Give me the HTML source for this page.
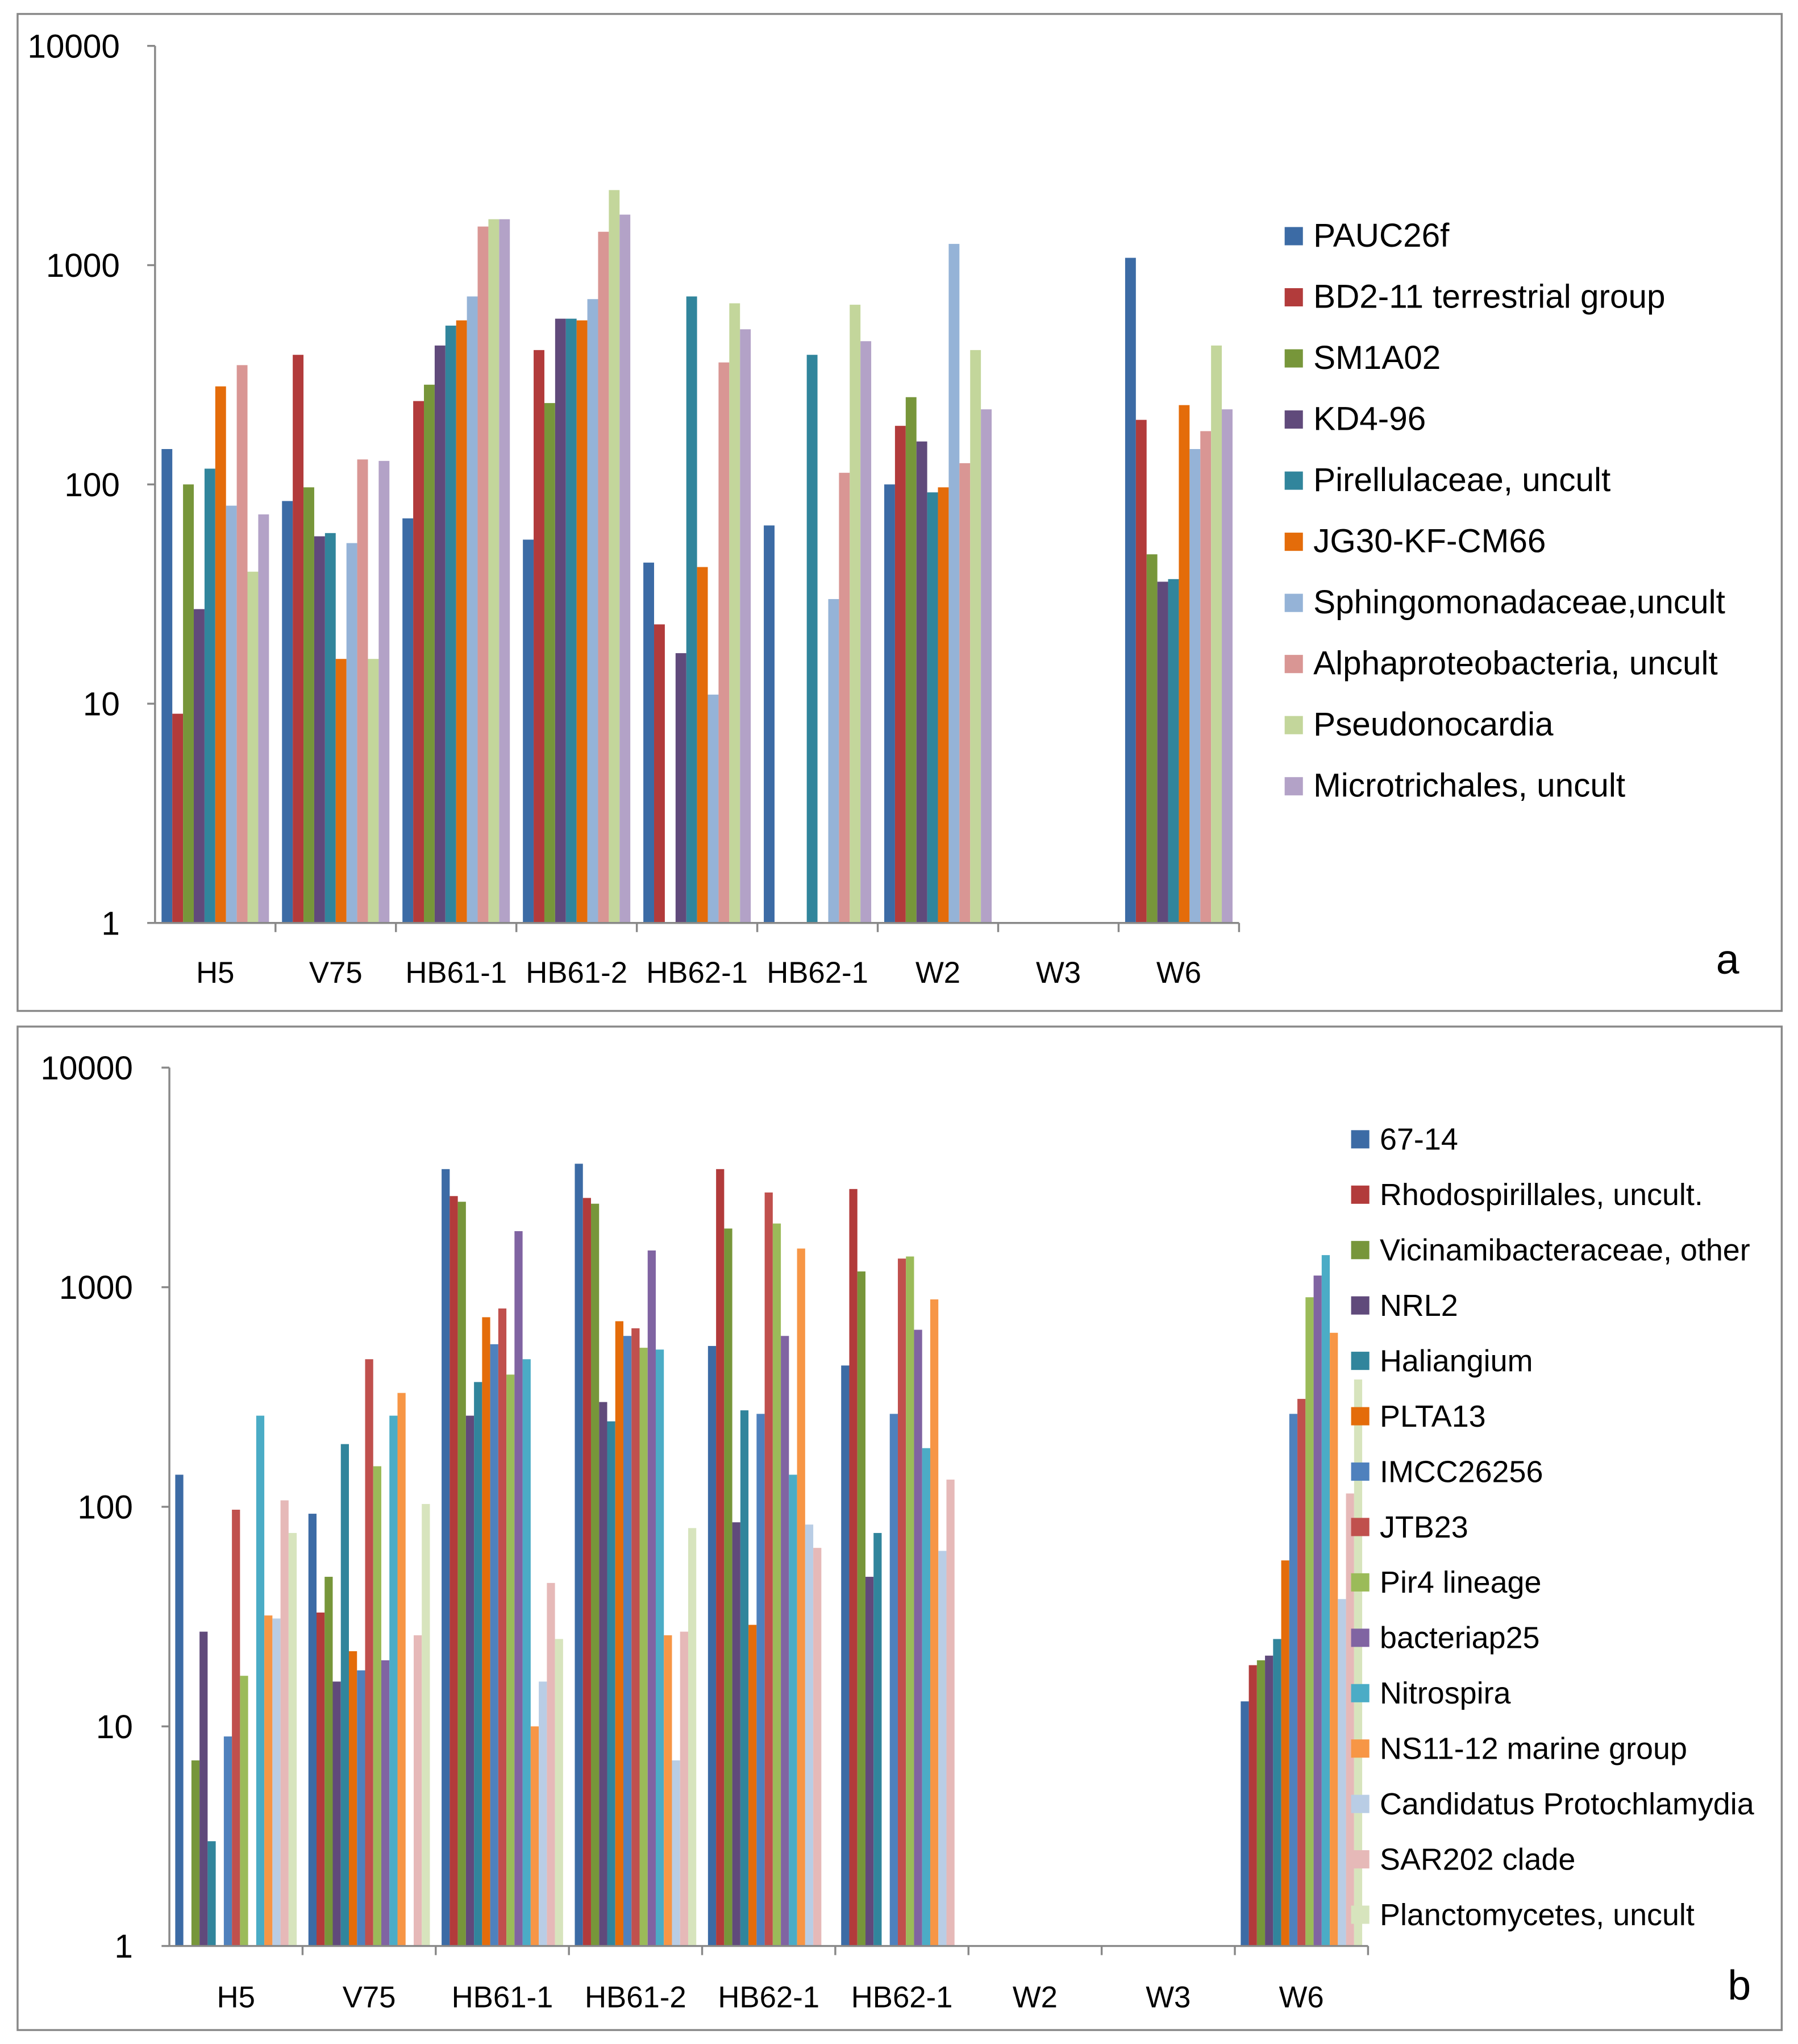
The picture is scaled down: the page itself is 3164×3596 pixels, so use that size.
<!DOCTYPE html>
<html><head><meta charset="utf-8"><style>
html,body{margin:0;padding:0;background:#fff}
svg{display:block}
text{font-family:"Liberation Sans",sans-serif;fill:#000}
</style></head><body>
<svg id="chart" width="3164" height="3596" viewBox="0 0 1380 1568" xmlns="http://www.w3.org/2000/svg">
<rect x="0" y="0" width="1380" height="1568" fill="#fff"/>
<rect x="13.5" y="10.5" width="1354" height="765" fill="none" stroke="#888" stroke-width="1.5"/>
<rect x="13.5" y="787.5" width="1354" height="770" fill="none" stroke="#888" stroke-width="1.5"/>
<g id="ga"></g><g id="gb"></g>
</svg>
<script>
const categories = ["H5","V75","HB61-1","HB61-2","HB62-1","HB62-1","W2","W3","W6"];
const tickLabels = ["1","10","100","1000","10000"];
const seriesA = ["PAUC26f","BD2-11 terrestrial group","SM1A02","KD4-96","Pirellulaceae, uncult","JG30-KF-CM66","Sphingomonadaceae,uncult","Alphaproteobacteria, uncult","Pseudonocardia","Microtrichales, uncult"];
const colorsA = ["#3C6BA5","#B23B3B","#77963A","#604A7B","#31859C","#E46C0A","#95B3D7","#D99694","#C3D69B","#B3A2C7"];
const valuesA = [
 [145,9,100,27,118,280,80,350,40,73],
 [84,390,97,58,60,16,54,130,16,128],
 [70,240,285,430,530,560,720,1500,1620,1620],
 [56,410,235,570,570,560,700,1420,2200,1700],
 [44,23,1,17,720,42,11,360,670,510],
 [65,1,1,1,390,1,30,113,660,450],
 [100,185,250,157,92,97,1250,125,410,220],
 [1,1,1,1,1,1,1,1,1,1],
 [1080,197,48,36,37,230,145,175,430,220]
];
const seriesB = ["67-14","Rhodospirillales, uncult.","Vicinamibacteraceae, other","NRL2","Haliangium","PLTA13","IMCC26256","JTB23","Pir4 lineage","bacteriap25","Nitrospira","NS11-12 marine group","Candidatus Protochlamydia","SAR202 clade","Planctomycetes, uncult"];
const colorsB = ["#3C6BA5","#B23B3B","#77963A","#604A7B","#31859C","#E46C0A","#4F81BD","#C0504D","#9BBB59","#8064A2","#4BACC6","#F79646","#B9CDE5","#E6B9B8","#D7E4BD"];
const valuesB = [
 [140,1,7,27,3,1,9,97,17,1,260,32,31,107,76],
 [93,33,48,16,193,22,18,470,153,20,260,330,1,26,103],
 [3450,2600,2450,260,370,730,550,800,400,1800,470,10,16,45,25],
 [3650,2550,2400,300,245,700,600,650,530,1470,520,26,7,27,80],
 [540,3450,1850,85,275,29,265,2700,1950,600,140,1500,83,65,1],
 [440,2800,1180,48,76,1,265,1350,1380,640,185,880,63,133,1],
 [1,1,1,1,1,1,1,1,1,1,1,1,1,1,1],
 [1,1,1,1,1,1,1,1,1,1,1,1,1,1,1],
 [13,19,20,21,25,57,265,310,900,1130,1400,620,38,115,380]
];
const NS="http://www.w3.org/2000/svg";
function mk(parent,tag,attrs){const e=document.createElementNS(NS,tag);for(const k in attrs)e.setAttribute(k,attrs[k]);parent.appendChild(e);return e;}
function panel(g,cfg,series,colors,values,letter){
 const {x0,x1,yTop,yBot,pad,tickX,fs,tfs,legX,legY,legStep,legFs,letterX,letterY,catY}=cfg;
 const dec=(yBot-yTop)/4;
 const yScale=v=>yBot-Math.log10(v)*dec;
 const gw=(x1-x0)/categories.length;
 const bw=(gw-2*pad)/series.length;
 tickLabels.forEach((t,i)=>{
  const y=yScale(Math.pow(10,i));
  const tl=mk(g,'line',{x1:x0-6,x2:x0,y1:y,y2:y,stroke:'#888','stroke-width':1.5});
  
  
  const tx=mk(g,'text',{x:tickX,y:y+9,'text-anchor':'end','font-size':tfs});
  tx.textContent=t;
  
  
 });
 values.forEach((row,ci)=>{
  row.forEach((v,si)=>{
   const y=yScale(v);
   const r=mk(g,'rect',{x:x0+ci*gw+pad+si*bw,y:y,width:bw,height:yBot-y,fill:colors[si]});
   
   
  });
 });
 const ax=mk(g,'line',{x1:x0,x2:x0,y1:yTop,y2:yBot,stroke:'#888','stroke-width':1.5});
 
 
 const xa=mk(g,'line',{x1:x0,x2:x1,y1:yBot,y2:yBot,stroke:'#888','stroke-width':1.5});
 
 
 categories.forEach((c,ci)=>{
  const tk=mk(g,'line',{x1:x0+(ci+1)*gw,x2:x0+(ci+1)*gw,y1:yBot,y2:yBot+7,stroke:'#888','stroke-width':1.5});
  
  
  const t=mk(g,'text',{x:x0+(ci+0.5)*gw,y:catY,'text-anchor':'middle','font-size':fs});
  t.textContent=c;
  
  
 });
 series.forEach((s,si)=>{
  const y=legY+si*legStep;
  const sw=mk(g,'rect',{x:legX,y:y-7,width:14,height:14,fill:colors[si]});
  
  
  const t=mk(g,'text',{x:legX+22,y:y+8,'font-size':legFs});
  t.textContent=s;
  
  
 });
 const L=mk(g,'text',{x:letterX,y:letterY,'font-size':32,'text-anchor':'middle'});
 L.textContent=letter;
 
 
}
panel(document.getElementById('ga'),{x0:119,x1:951,yTop:35,yBot:708,pad:5,tickX:92,fs:23,tfs:25.5,legX:986,legY:181,legStep:46.9,legFs:25.5,letterX:1326,letterY:747,catY:754},seriesA,colorsA,valuesA,'a');
panel(document.getElementById('gb'),{x0:130,x1:1050,yTop:819,yBot:1493,pad:4.5,tickX:102,fs:23,tfs:25.5,legX:1037,legY:874,legStep:42.5,legFs:23.5,letterX:1335,letterY:1534,catY:1540},seriesB,colorsB,valuesB,'b');
</script>
</body></html>
